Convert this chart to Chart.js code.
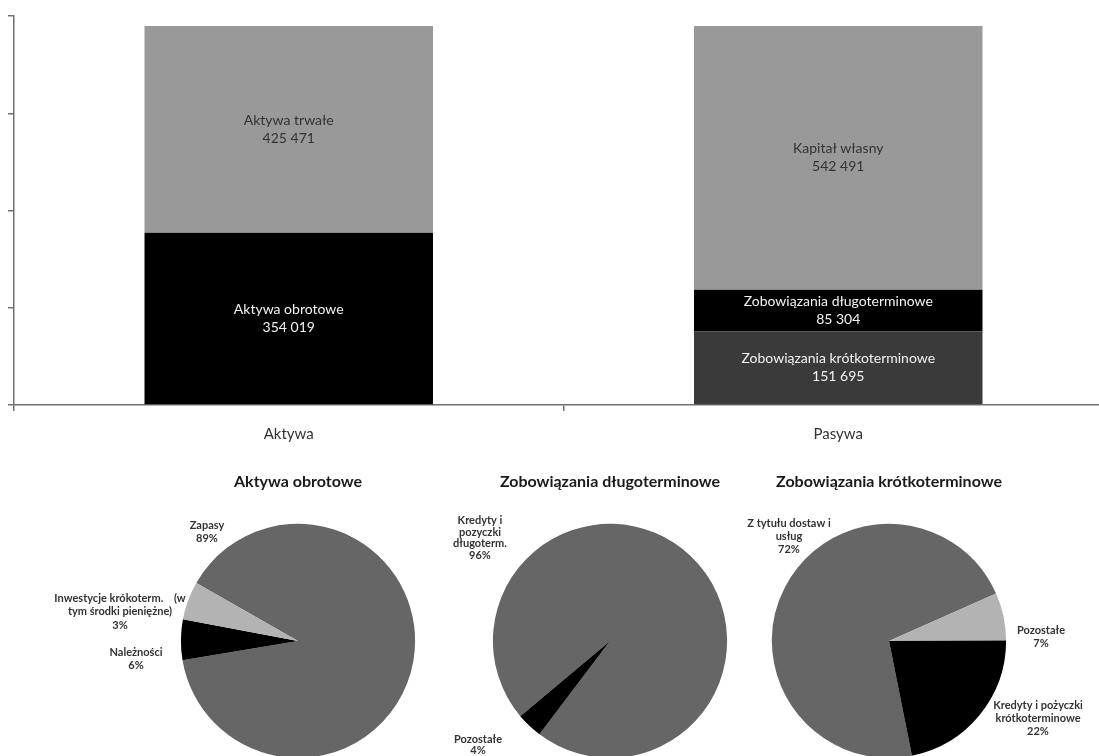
<!DOCTYPE html>
<html>
<head>
<meta charset="utf-8">
<script src="https://cdn.jsdelivr.net/npm/chart.js@4"></script>
<style>
  html, body { margin: 0; padding: 0; width: 1099px; height: 756px; overflow: hidden; background: #fff; }
  .box { position: absolute; }
</style>
</head>
<body>
<div class="box" style="left:0;top:0;width:1120px;height:467px;"><canvas id="barChart"></canvas></div>
<div class="box" style="left:30px;top:465px;width:536px;height:293px;"><canvas id="pie1"></canvas></div>
<div class="box" style="left:440px;top:465px;width:340px;height:293px;"><canvas id="pie2"></canvas></div>
<div class="box" style="left:688px;top:465px;width:402px;height:293px;"><canvas id="pie3"></canvas></div>
<script>
// bilans - dane
const categories = ['Aktywa', 'Pasywa'];
const aktywaObrotowe = [354019, null];
const aktywaTrwale = [425471, null];
const zobKrotko = [null, 151695];
const zobDlugo = [null, 85304];
const kapitalWlasny = [null, 542491];
const yTicks = [0, 200000, 400000, 600000, 800000];

// struktura - wykresy kołowe
const pie1Title = 'Aktywa obrotowe';
const pie1Labels = ['Zapasy', 'Należności', 'Inwestycje krókoterm.    (w tym środki pieniężne)'];
const pie1Values = [89.1, 5.6, 5.3];
const pie1Pct = ['89%', '6%', '3%'];

const pie2Title = 'Zobowiązania długoterminowe';
const pie2Labels = ['Kredyty i pozyczki długoterm.', 'Pozostałe'];
const pie2Values = [96.4, 3.6];
const pie2Pct = ['96%', '4%'];

const pie3Title = 'Zobowiązania krótkoterminowe';
const pie3Labels = ['Z tytułu dostaw i usług', 'Pozostałe', 'Kredyty i pożyczki krótkoterminowe'];
const pie3Values = [71.5, 6.6, 21.9];
const pie3Pct = ['72%', '7%', '22%'];

const FONT = 'Lato, "Open Sans", sans-serif';
const AXIS = '#707070';

function fmt(v) {
    return String(v).replace(/\B(?=(\d{3})+(?!\d))/g, ' ');
}

// etykiety w srodku slupkow
const barLabels = {
    id: 'barLabels',
    afterDatasetsDraw(chart) {
        const ctx = chart.ctx;
        ctx.save();
        ctx.font = '14px ' + FONT;
        ctx.textAlign = 'center';
        ctx.textBaseline = 'middle';
        chart.data.datasets.forEach((ds, i) => {
            const meta = chart.getDatasetMeta(i);
            meta.data.forEach((bar, j) => {
                const v = ds.data[j];
                if (v == null) return;
                const mid = (bar.y + bar.base) / 2;
                ctx.fillStyle = ds.textColor;
                ctx.fillText(ds.label, bar.x, mid - 9);
                ctx.fillText(fmt(v), bar.x, mid + 9);
            });
        });
        ctx.restore();
    }
};

new Chart(document.getElementById('barChart'), {
    type: 'bar',
    data: {
        labels: categories,
        datasets: [
            { label: 'Aktywa obrotowe', data: aktywaObrotowe, backgroundColor: '#000000', textColor: '#f2f2f2' },
            { label: 'Aktywa trwałe', data: aktywaTrwale, backgroundColor: '#999999', textColor: '#333333' },
            { label: 'Zobowiązania krótkoterminowe', data: zobKrotko, backgroundColor: '#3a3a3a', textColor: '#f2f2f2' },
            { label: 'Zobowiązania długoterminowe', data: zobDlugo, backgroundColor: '#000000', textColor: '#f2f2f2' },
            { label: 'Kapitał własny', data: kapitalWlasny, backgroundColor: '#999999', textColor: '#333333' }
        ]
    },
    options: {
        responsive: true,
        maintainAspectRatio: false,
        animation: false,
        layout: { padding: { left: 8, top: 16, right: 7, bottom: 10 } },
        datasets: { bar: { categoryPercentage: 1, barPercentage: 0.525, skipNull: true } },
        plugins: { legend: { display: false }, tooltip: { enabled: false } },
        scales: {
            x: {
                stacked: true,
                border: { color: AXIS, width: 1.5 },
                grid: { drawOnChartArea: false, drawTicks: true, tickLength: 6, color: AXIS, lineWidth: 1.5, offset: true },
                ticks: { color: '#333333', font: { family: FONT, size: 15 }, padding: 14 }
            },
            y: {
                stacked: true,
                min: yTicks[0],
                max: yTicks[yTicks.length - 1],
                afterBuildTicks: axis => { axis.ticks = yTicks.map(v => ({ value: v })); },
                border: { color: AXIS, width: 1.5 },
                grid: { drawOnChartArea: false, drawTicks: true, tickLength: 6, color: AXIS, lineWidth: 1.5 },
                ticks: { display: false }
            }
        }
    },
    plugins: [barLabels]
});

// etykiety wykresow kolowych (pozycje wzgledem srodka kola)
const pieLabels = {
    id: 'pieLabels',
    afterDatasetsDraw(chart) {
        const ctx = chart.ctx;
        const arc = chart.getDatasetMeta(0).data[0];
        const cx = arc.x, cy = arc.y;
        const cfg = chart.options.plugins.pieLabels;
        ctx.save();
        ctx.font = 'bold 11px ' + FONT;
        ctx.fillStyle = '#333333';
        ctx.textAlign = 'center';
        ctx.textBaseline = 'middle';
        cfg.lines.forEach((lines, i) => {
            const [dx, dy] = cfg.offsets[i];
            const h = cfg.lineHeight;
            const y0 = cy + dy - (lines.length - 1) * h / 2;
            lines.forEach((t, k) => ctx.fillText(t, cx + dx, y0 + k * h));
        });
        ctx.restore();
    }
};

function pieChart(id, title, labels, values, colors, rotation, lines, offsets, lineHeight) {
    return new Chart(document.getElementById(id), {
        type: 'pie',
        data: {
            labels: labels,
            datasets: [{ data: values, backgroundColor: colors, borderWidth: 0 }]
        },
        options: {
            responsive: true,
            maintainAspectRatio: false,
            animation: false,
            rotation: rotation,
            layout: { padding: 0 },
            plugins: {
                legend: { display: false },
                tooltip: { enabled: false },
                title: {
                    display: true,
                    text: title,
                    color: '#1a1a1a',
                    font: { family: FONT, size: 16, weight: 'bold' },
                    padding: { top: 7, bottom: 32.6 }
                },
                pieLabels: { lines: lines, offsets: offsets, lineHeight: lineHeight }
            }
        },
        plugins: [pieLabels]
    });
}

pieChart('pie1', pie1Title, pie1Labels, pie1Values, ['#666666', '#000000', '#b3b3b3'], -60.3,
    [['Zapasy', pie1Pct[0]], ['Należności', pie1Pct[1]], ['Inwestycje krókoterm.    (w', 'tym środki pieniężne)', pie1Pct[2]]],
    [[-91, -109], [-162, 18], [-178, -29]], 13.5);

pieChart('pie2', pie2Title, pie2Labels, pie2Values, ['#666666', '#000000'], -130,
    [['Kredyty i', 'pozyczki', 'długoterm.', pie2Pct[0]], ['Pozostałe', pie2Pct[1]]],
    [[-130, -103], [-132, 104]], 11.7);

pieChart('pie3', pie3Title, pie3Labels, pie3Values, ['#666666', '#b3b3b3', '#000000'], 168.7,
    [['Z tytułu dostaw i', 'usług', pie3Pct[0]], ['Pozostałe', pie3Pct[1]], ['Kredyty i pożyczki', 'krótkoterminowe', pie3Pct[2]]],
    [[-100, -104], [152, -4], [149, 78]], 13);
</script>
</body>
</html>
